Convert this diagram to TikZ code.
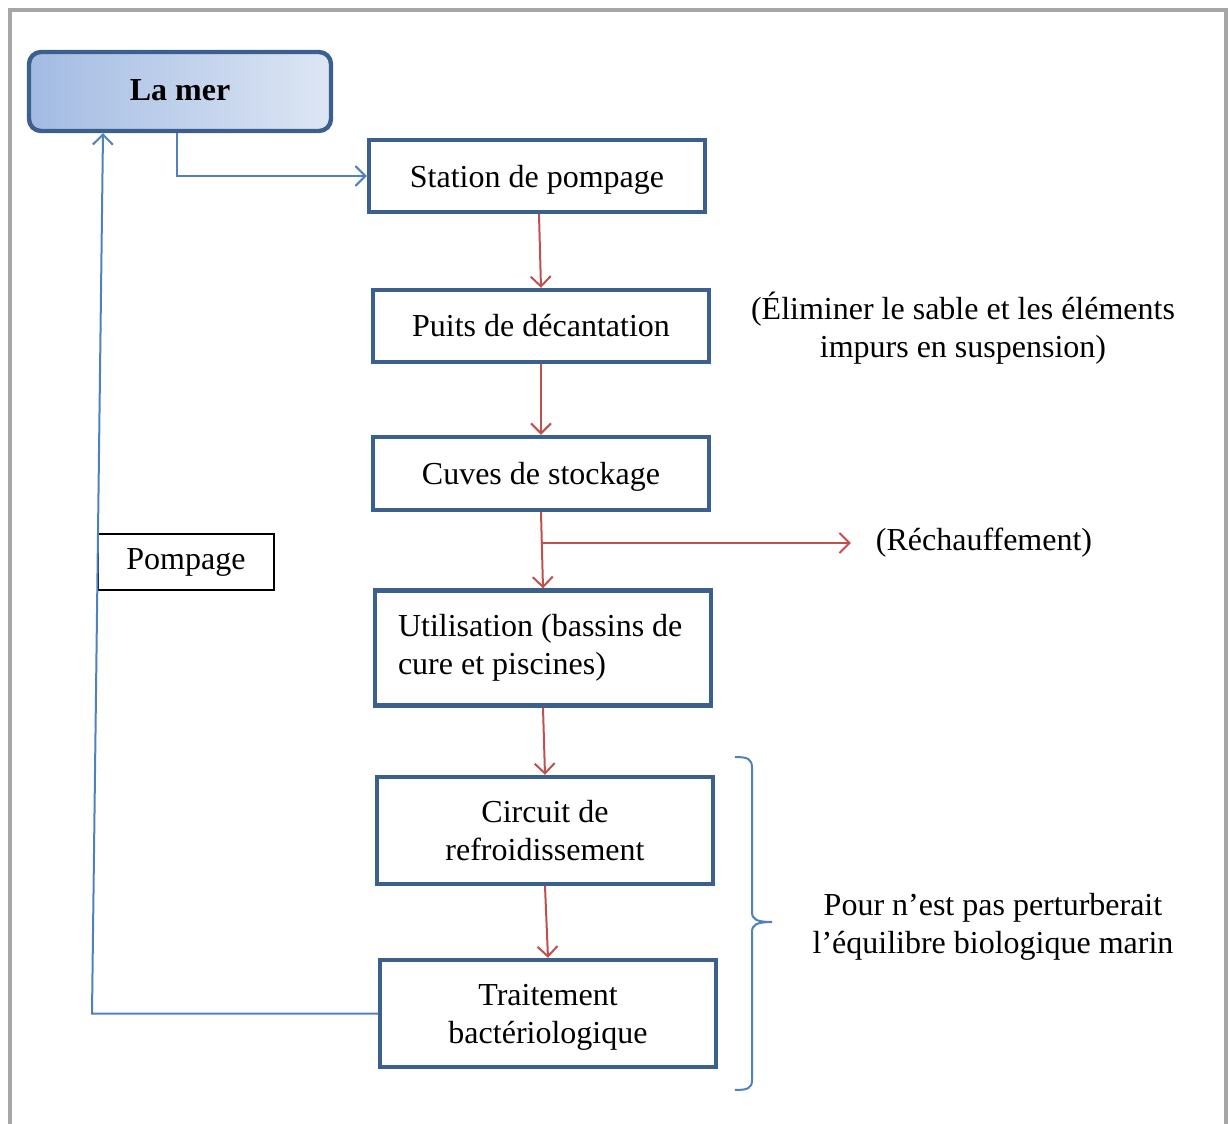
\documentclass[tikz,border=0pt]{standalone}
\usepackage{fontspec}
\setmainfont{Liberation Serif}
\usetikzlibrary{arrows.meta}
\definecolor{boxblue}{RGB}{60,96,142}
\definecolor{lineblue}{RGB}{79,129,189}
\definecolor{linered}{RGB}{192,80,77}
\definecolor{framegray}{RGB}{166,166,166}
\definecolor{merlight}{RGB}{221,230,244}
\definecolor{merdark}{RGB}{163,187,227}

\begin{document}
\begin{tikzpicture}[x=0.5pt,y=-0.5pt,
  every node/.style={font=\fontsize{16}{19}\selectfont},
  box/.style={draw=boxblue,line width=2.2pt,minimum width=168pt,inner sep=0pt},
  bleu/.style={draw,lineblue,line width=1pt},
  rouge/.style={draw,linered,line width=1pt},
  >={Straight Barb[length=5pt,width=10pt]}]
\useasboundingbox (0,0) rectangle (1228,1124);
\path[draw,framegray,line width=2pt] (10,1124) -- (10,10) -- (1226,10) -- (1226,1124);
\node[box,rounded corners=6pt,minimum width=151pt,minimum height=39.5pt,left color=merdark,right color=merlight,font=\fontsize{16}{19}\selectfont\bfseries,text depth=1.5pt] (1) at (180,91.5) {La mer};
\node[box,minimum height=36pt,text depth=0pt] (2) at (537,176) {Station de pompage};
\node[box,minimum height=36pt] (3) at (541,326) {Puits de décantation};
\node[box,minimum height=36.5pt,text depth=0pt] (4) at (541,473.5) {Cuves de stockage};
\node[box,minimum height=57.5pt,align=flush left,text width=145pt] (5) at (543,648) {Utilisation (bassins de\\cure et piscines)};
\node[box,minimum height=53.5pt,align=center] (6) at (545,830.5) {Circuit de\\refroidissement};
\node[box,minimum height=53.5pt,align=center,text depth=0pt] (7) at (548,1013.5) {Traitement\\bactériologique};
\node[draw,line width=0.8pt,minimum width=88pt,minimum height=28pt,inner sep=0pt] (8) at (186,562) {Pompage};
\node (9) at (984,543) {(Réchauffement)};
\node[align=center] (10) at (963,328) {(Éliminer le sable et les éléments\\impurs en suspension)};
\node[align=center] (11) at (993,927) {Pour n’est pas perturberait\\l’équilibre biologique marin};
\coordinate (c1) at (92,1013.5);
\path[bleu,->] ([xshift=-1.5pt]1.south) |- (2.west);
\path[bleu,->] (7.west) -- (c1) -- ([xshift=-38.5pt]1.south);
\path[rouge,->] ([xshift=1pt]2.south) -- (3.north);
\path[rouge,->] (3.south) -- (4.north);
\path[rouge,->] (4.south) -- (5.north);
\path[rouge,->] (4.south |- 9.west) -- ([xshift=-9pt]9.west);
\path[rouge,->] (5.south) -- (6.north);
\path[rouge,->] (6.south) -- (7.north);
\path[bleu] (735,757) .. controls (748,757) and (752,759) .. (752,768) -- (752,912) .. controls (752,919) and (756,922) .. (772,922) .. controls (756,922) and (752,925) .. (752,932) -- (752,1080) .. controls (752,1088) and (748,1090) .. (735,1090);
\end{tikzpicture}
\end{document}
